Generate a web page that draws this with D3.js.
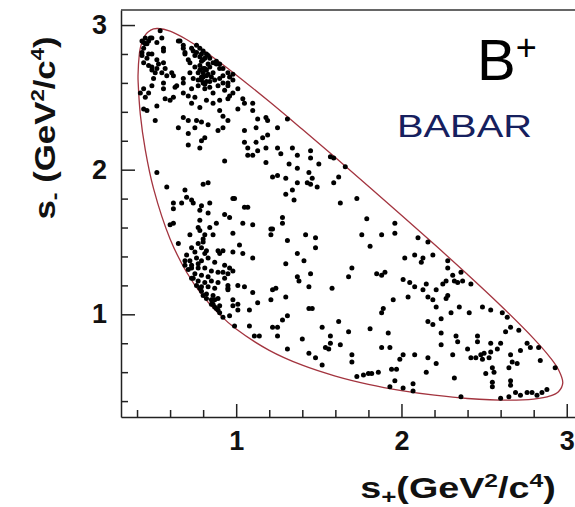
<!DOCTYPE html>
<html>
<head>
<meta charset="utf-8">
<script src="https://cdn.jsdelivr.net/npm/d3@7"></script>
<style>
  body { margin: 0; background: #fff; }
  text { font-family: "Liberation Sans", Arial, sans-serif; }
</style>
</head>
<body>
<svg width="575" height="507"></svg>
<script>
var svg = d3.select("svg"),
    width = +svg.attr("width"),
    height = +svg.attr("height");

// tick values
var majorTicks = [1, 2, 3];
var minorTicks = [0.4, 0.6, 0.8, 1.2, 1.4, 1.6, 1.8, 2.2, 2.4, 2.6, 2.8];

// Dalitz boundary (s+, s-)
var boundary = [[0.406,2.651],[0.414,2.8],[0.42,2.842],[0.436,2.9],[0.45,2.931],[0.465,2.95],[0.5,2.973],
  [0.526,2.976],[0.6,2.958],[0.7,2.900],[0.8,2.826],[0.9,2.743],[1.0,2.655],[1.2,2.471],[1.4,2.279],
  [1.6,2.084],[1.8,1.886],[2.0,1.685],[2.2,1.482],[2.4,1.275],[2.6,1.061],[2.8,0.832],[2.9,0.701],
  [2.95,0.617],[2.976,0.526],[2.95,0.465],[2.9,0.436],[2.8,0.414],[2.651,0.406],[2.4,0.418],[2.2,0.441],
  [2.0,0.473],[1.8,0.516],[1.6,0.573],[1.4,0.648],[1.2,0.751],[1.0,0.898],[0.9,0.998],[0.8,1.124],
  [0.7,1.291],[0.6,1.521],[0.5,1.869],[0.45,2.137],[0.42,2.381],[0.407,2.6]];

// B+ candidates (s+, s-)
var events = [
  // top left corner
  [0.45,2.91],[0.47,2.89],[0.45,2.87],[0.48,2.91],[0.44,2.88],[0.54,2.96],[0.56,2.84],[0.49,2.80],
  [0.43,2.79],[0.44,2.74],[0.47,2.72],[0.49,2.69],[0.51,2.67],[0.55,2.67],[0.57,2.70],[0.53,2.73],
  [0.52,2.76],[0.56,2.74],[0.43,2.89],[0.46,2.87],[0.44,2.84],[0.43,2.81],[0.47,2.80],[0.46,2.77],
  [0.49,2.71],[0.52,2.70],[0.58,2.65],[0.61,2.67],[0.64,2.58],[0.56,2.60],[0.50,2.63],[0.56,2.82],
  [0.65,2.89],[0.55,2.91],[0.52,2.88],[0.49,2.91],
  // upper band
  [0.66,2.89],[0.68,2.86],[0.69,2.80],[0.72,2.74],[0.73,2.84],[0.76,2.81],[0.88,2.73],[0.90,2.70],
  [0.92,2.65],[0.96,2.64],[0.95,2.60],[0.98,2.66],[0.62,2.65],[0.68,2.60],[0.63,2.57],[0.56,2.56],
  [0.49,2.58],[0.47,2.53],[0.44,2.56],[0.42,2.53],[0.45,2.50],[0.60,2.48],[0.57,2.49],[0.62,2.50],
  [0.52,2.44],[0.44,2.42],[0.46,2.41],[0.68,2.53],[0.71,2.51],[0.75,2.50],[0.73,2.46],[0.78,2.43],
  [0.82,2.48],[0.86,2.46],[0.90,2.48],[0.95,2.49],[0.96,2.51],[0.93,2.55],[1.01,2.56],[1.04,2.49],
  [1.05,2.46],[1.01,2.42],[1.10,2.46],[1.10,2.41],[0.90,2.41],[0.92,2.37],[0.95,2.34],[0.92,2.29],
  [0.89,2.27],[0.68,2.36],[0.71,2.34],[0.76,2.34],[0.79,2.33],[0.83,2.31],[0.65,2.29],[0.75,2.29],
  [0.71,2.25],[0.81,2.22],[0.79,2.20],[0.78,2.15],[0.71,2.17],[0.51,2.34],[1.13,2.35],[1.18,2.36],
  [1.19,2.34],[1.05,2.27],[1.12,2.29],[1.19,2.24],[1.16,2.22],[1.05,2.19],[1.12,2.19],[1.07,2.15],
  [1.13,2.13],[1.07,2.10],[1.10,2.10],[1.18,2.15],[1.18,2.05],[0.93,2.06],
  // cluster near s+ ~ 0.8, s- ~ 2.7
  [0.68,2.84],[0.69,2.81],[0.74,2.82],[0.75,2.79],[0.78,2.78],[0.79,2.80],[0.80,2.76],[0.78,2.72],
  [0.81,2.70],[0.83,2.73],[0.84,2.71],[0.86,2.67],[0.82,2.65],[0.79,2.64],[0.80,2.60],[0.77,2.58],
  [0.74,2.63],[0.68,2.63],[0.72,2.67],[0.73,2.56],[0.81,2.56],[0.84,2.57],[0.86,2.53],[0.90,2.63],
  [0.92,2.60],[0.95,2.58],[0.98,2.62],[0.98,2.53],[0.87,2.62],[0.88,2.75],[0.90,2.73],[0.83,2.79],
  [0.78,2.84],[0.76,2.86],[0.92,2.70],[0.95,2.67],[0.89,2.58],[0.77,2.67],[0.75,2.71],[0.71,2.76],
  [0.80,2.67],[0.79,2.75],[0.81,2.77],[0.80,2.70],[0.82,2.69],[0.78,2.69],[0.80,2.64],[0.82,2.61],
  [0.79,2.62],[0.81,2.59],[0.83,2.66],[0.85,2.64],[0.77,2.62],[0.84,2.61],[0.86,2.74],[0.82,2.80],
  [0.80,2.82],[0.84,2.77],
  // middle left
  [0.52,1.98],[0.58,1.88],[0.69,1.86],[0.70,1.81],[0.73,1.79],[0.80,1.90],[0.83,1.91],[0.62,1.77],
  [0.67,1.77],[0.79,1.75],[0.84,1.77],[0.98,1.80],[1.05,1.74],[1.22,1.95],[0.62,1.73],[0.74,1.77],
  [0.78,1.72],[0.83,1.70],[0.99,1.80],[1.07,1.74],[1.22,1.59],[1.30,1.83],[1.25,1.96],[0.78,1.58],
  [0.80,1.52],
  // middle band
  [1.31,2.35],[1.25,2.29],[1.25,2.15],[1.27,2.11],[1.34,2.15],[1.37,2.10],[1.45,2.13],[1.45,2.08],
  [1.50,2.04],[1.32,2.04],[1.37,2.01],[1.44,1.98],[1.46,1.94],[1.30,1.94],[1.37,1.91],[1.43,1.91],
  [1.45,1.90],[1.49,1.88],[1.34,1.86],[1.35,1.79],[1.57,2.09],[1.59,2.08],[1.66,2.02],[1.62,1.95],
  [1.59,1.91],[1.63,1.77],[1.73,1.80],[1.79,1.66],[1.76,1.55],[1.88,1.55],[1.96,1.63],[1.96,1.56],
  [1.81,1.47],[2.10,1.53],[2.16,1.50],[2.02,1.39],[2.08,1.41],[2.13,1.39],[2.19,1.41],[1.31,1.51],
  [1.42,1.55],[1.48,1.53],[1.48,1.46],[1.37,1.42],
  // lower middle
  [1.28,1.67],[1.28,1.63],[1.41,1.37],[1.30,1.35],[1.37,1.26],[1.38,1.23],[1.45,1.28],[1.44,1.19],
  [1.24,1.18],[1.30,1.12],[1.44,1.04],[1.46,1.04],[1.58,1.18],[1.31,0.99],[1.28,0.96],[1.25,0.91],
  [1.25,0.85],[1.40,0.83],[1.31,0.76],[1.52,0.91],[1.57,0.85],[1.62,0.95],[1.68,0.88],[1.57,0.80],
  [1.54,0.77],[1.56,0.76],[1.63,0.79],[1.44,0.73],[1.48,0.70],[1.52,0.65],[1.70,0.72],[1.70,0.67],
  [1.73,0.57],[1.77,0.58],[1.80,0.59],[1.82,0.59],[1.86,0.60],[1.70,1.32],[1.68,1.26],[1.85,1.28],
  [1.88,1.27],[1.90,1.29],[1.81,0.90],[1.92,0.87],[1.88,0.77],[1.93,0.77],[1.94,0.62],[1.97,0.62],
  [1.96,0.54],[2.01,0.72],[1.99,0.69],[2.08,0.72],[2.07,0.52],[2.01,1.24],[2.05,1.22],[2.08,1.19],
  [2.04,1.12],[1.95,1.10],[1.89,1.04],[1.88,1.01],[1.93,0.50],[2.01,0.49],[2.07,0.47],
  // lower left
  [0.62,1.63],[0.60,1.62],[0.78,1.65],[0.77,1.60],[0.84,1.60],[0.88,1.63],[0.93,1.69],[0.96,1.67],
  [1.04,1.63],[1.10,1.62],[1.21,1.59],[1.21,1.55],[0.98,1.56],[0.86,1.55],[0.81,1.55],[0.72,1.55],
  [0.77,1.49],[0.80,1.50],[0.79,1.46],[0.65,1.49],[0.73,1.46],[0.81,1.42],[0.90,1.42],[0.92,1.44],
  [0.98,1.43],[1.02,1.48],[1.04,1.42],[1.10,1.39],[0.96,1.32],[0.95,1.28],[0.92,1.29],[0.93,1.25],
  [0.95,1.18],[1.01,1.20],[1.05,1.19],[1.10,1.15],[0.98,1.10],[1.01,1.07],[1.13,1.08],[1.08,1.03],
  [1.01,1.03],[0.96,0.99],[0.88,1.04],[0.90,1.01],[0.99,0.92],[1.08,0.92],[1.11,0.85],[1.14,0.85],
  [1.22,1.17],[1.21,1.10],[1.22,0.91],
  // cluster near s+ ~ 0.8, s- ~ 1.3
  [0.75,1.43],[0.82,1.44],[0.89,1.44],[0.72,1.37],[0.76,1.39],[0.79,1.37],[0.83,1.39],[0.87,1.36],
  [0.93,1.34],[0.69,1.34],[0.73,1.34],[0.77,1.32],[0.81,1.32],[0.85,1.30],[0.89,1.29],[0.98,1.30],
  [0.71,1.31],[0.75,1.28],[0.79,1.27],[0.83,1.26],[0.74,1.25],[0.77,1.23],[0.81,1.22],[0.85,1.23],
  [0.89,1.22],[0.95,1.20],[0.76,1.20],[0.79,1.19],[0.83,1.19],[0.87,1.18],[0.95,1.17],[0.79,1.16],
  [0.82,1.14],[0.86,1.13],[0.82,1.11],[0.85,1.10],[0.89,1.11],[0.86,1.07],[0.87,1.05],[0.89,1.03],
  [0.98,1.06],[0.73,1.32],[0.77,1.35],[0.70,1.41],[0.69,1.37],[0.73,1.25],[0.78,1.18],[0.80,1.13],
  [0.85,1.07],[0.92,0.98],[0.87,1.10],[0.90,1.06],
  // right part
  [2.12,1.36],[2.28,1.37],[2.28,1.32],[2.31,1.27],[2.32,1.23],[2.34,1.22],[2.37,1.23],[2.36,1.29],
  [2.42,1.21],[2.27,1.23],[2.25,1.21],[2.15,1.21],[2.13,1.17],[2.21,1.17],[2.16,1.12],[2.19,1.10],
  [2.28,1.13],[2.27,1.11],[2.21,1.05],[2.35,1.05],[2.30,1.01],[2.41,1.01],[2.49,1.05],[2.54,1.03],
  [2.61,1.01],[2.64,0.98],[2.66,0.91],[2.63,0.88],[2.71,0.89],[2.16,0.95],[2.19,0.93],[2.24,0.97],
  [2.24,0.87],[2.33,0.85],[2.34,0.81],[2.24,0.79],[2.46,0.85],[2.46,0.81],[2.40,0.76],[2.54,0.80],
  [2.60,0.80],[2.54,0.74],[2.58,0.76],[2.42,0.70],[2.45,0.70],[2.48,0.72],[2.50,0.73],[2.49,0.69],
  [2.53,0.70],[2.31,0.72],[2.16,0.70],[2.21,0.66],[2.15,0.60],[2.32,0.56],[2.66,0.72],[2.67,0.67],
  [2.70,0.66],[2.72,0.75],[2.76,0.80],[2.78,0.77],[2.83,0.77],[2.84,0.68],[2.93,0.63],[2.55,0.63],
  [2.56,0.60],[2.51,0.59],[2.65,0.63],[2.55,0.53],[2.55,0.50],[2.66,0.54],[2.66,0.51],[2.69,0.46],
  [2.72,0.44],[2.76,0.46],[2.79,0.46],[2.82,0.44],[2.85,0.46],[2.88,0.48],[2.36,0.43],[2.60,0.42],
  [2.65,0.43]
];

var margin = {top: 10, right: 0, bottom: 90, left: 121};

var x = d3.scaleLinear()
    .domain([0.303, 3.05])
    .range([margin.left, width - margin.right]);

var y = d3.scaleLinear()
    .domain([0.29, 3.104])
    .range([height - margin.bottom, margin.top]);

// boundary
svg.append("path")
    .datum(boundary)
    .attr("fill", "none")
    .attr("stroke", "#a3343f")
    .attr("stroke-width", 1.3)
    .attr("d", d3.line()
        .x(function(d) { return x(d[0]); })
        .y(function(d) { return y(d[1]); })
        .curve(d3.curveCatmullRomClosed.alpha(0.5)));

// events
svg.append("g")
  .selectAll("circle")
  .data(events)
  .enter().append("circle")
    .attr("cx", function(d) { return x(d[0]); })
    .attr("cy", function(d) { return y(d[1]); })
    .attr("r", 2.5)
    .attr("fill", "#000");

// axes
svg.append("g")
    .attr("transform", "translate(0," + (height - margin.bottom) + ")")
    .call(d3.axisBottom(x).tickValues(majorTicks).tickSize(-13).tickSizeOuter(0).tickPadding(14)
        .tickFormat(d3.format("d")));
svg.append("g")
    .attr("transform", "translate(0," + (height - margin.bottom) + ")")
    .call(d3.axisBottom(x).tickValues(minorTicks).tickSize(-7).tickSizeOuter(0).tickFormat(""))
    .select(".domain").remove();

svg.append("g")
    .attr("transform", "translate(" + margin.left + ",0)")
    .call(d3.axisLeft(y).tickValues(majorTicks).tickSize(-14).tickSizeOuter(0).tickPadding(14)
        .tickFormat(d3.format("d")));
svg.append("g")
    .attr("transform", "translate(" + margin.left + ",0)")
    .call(d3.axisLeft(y).tickValues(minorTicks).tickSize(-7).tickSizeOuter(0).tickFormat(""))
    .select(".domain").remove();

svg.selectAll(".tick line, .domain").attr("stroke", "#222").attr("stroke-width", 1.5);
svg.selectAll(".tick text")
    .attr("font-family", "Liberation Sans, Arial, sans-serif")
    .attr("font-size", 27)
    .attr("font-weight", "bold")
    .attr("fill", "#111");

// top frame line
svg.append("line")
    .attr("x1", margin.left).attr("x2", width)
    .attr("y1", margin.top).attr("y2", margin.top)
    .attr("stroke", "#333").attr("stroke-width", 1.5);

// axis titles
var xt = svg.append("text")
    .attr("transform", "translate(458,498) scale(1.3,1)")
    .attr("text-anchor", "middle")
    .attr("font-size", 29)
    .attr("font-weight", "bold")
    .attr("fill", "#111");
xt.append("tspan").text("s");
xt.append("tspan").attr("font-size", 20).attr("dy", 6).text("+");
xt.append("tspan").attr("dy", -6).text("(GeV");
xt.append("tspan").attr("font-size", 19).attr("dy", -11).text("2");
xt.append("tspan").attr("dy", 11).text("/c");
xt.append("tspan").attr("font-size", 19).attr("dy", -11).text("4");
xt.append("tspan").attr("dy", 11).text(")");

var yt = svg.append("text")
    .attr("transform", "translate(55,128) rotate(-90) scale(1.16,1)")
    .attr("text-anchor", "middle")
    .attr("font-size", 30)
    .attr("font-weight", "bold")
    .attr("fill", "#111");
yt.append("tspan").text("s");
yt.append("tspan").attr("font-size", 20).attr("dy", 6).text("-");
yt.append("tspan").attr("dy", -6).text(" (GeV");
yt.append("tspan").attr("font-size", 19).attr("dy", -11).text("2");
yt.append("tspan").attr("dy", 11).text("/c");
yt.append("tspan").attr("font-size", 19).attr("dy", -11).text("4");
yt.append("tspan").attr("dy", 11).text(")");

// labels
var bt = svg.append("text")
    .attr("x", 477)
    .attr("y", 80)
    .attr("font-size", 58)
    .attr("fill", "#000");
bt.append("tspan").text("B");
bt.append("tspan").attr("font-size", 36).attr("dy", -20).text("+");

svg.append("text")
    .attr("x", 397)
    .attr("y", 137)
    .attr("font-size", 32)
    .attr("textLength", 135)
    .attr("lengthAdjust", "spacingAndGlyphs")
    .attr("fill", "#16205e")
    .text("BABAR");
</script>
</body>
</html>
